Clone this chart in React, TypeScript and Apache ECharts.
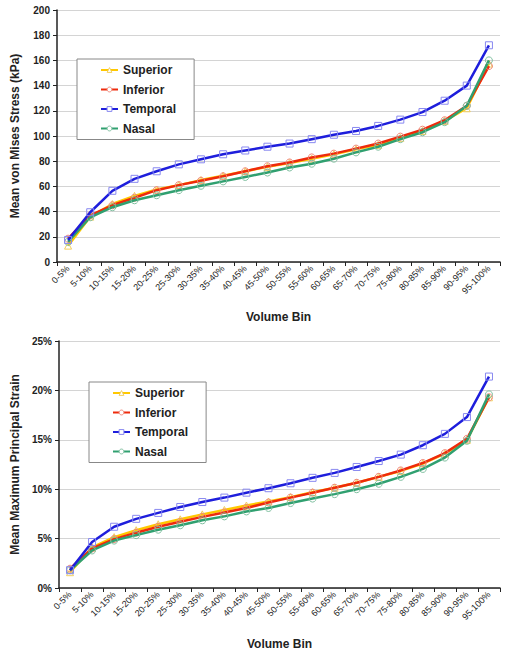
import React, { useEffect, useRef } from "react";
import * as echarts from "echarts";

const categories = ["0-5%","5-10%","10-15%","15-20%","20-25%","25-30%","30-35%","35-40%","40-45%","45-50%","50-55%","55-60%","60-65%","65-70%","70-75%","75-80%","80-85%","85-90%","90-95%","95-100%"];

const seriesNames = ["Superior", "Inferior", "Temporal", "Nasal"];

const stressSuperior = [13, 36, 46, 52.5, 57.5, 61, 65, 68.5, 72, 75.5, 78.5, 82, 85.5, 89.5, 93, 98.5, 104, 112, 122, 157.5];
const stressInferior = [18.5, 37, 45, 51, 57, 61, 64.5, 68, 72, 76, 79, 83, 86, 90, 94, 99.5, 105, 112.5, 124, 155.5];
const stressTemporal = [17.5, 39.5, 56.5, 66, 72, 77.5, 81.5, 85.5, 88.5, 91.5, 94, 97.5, 101, 104, 108, 113, 119, 128, 140, 172];
const stressNasal = [16, 35.5, 43.5, 49, 53, 57, 60.5, 64, 67.5, 71, 75, 78, 82, 87, 91.5, 97.5, 103, 111, 124, 160];

const strainSuperior = [1.6, 4.1, 5.15, 5.85, 6.45, 6.95, 7.45, 7.9, 8.35, 8.75, 9.2, 9.7, 10.15, 10.65, 11.25, 11.85, 12.6, 13.6, 15.0, 19.3];
const strainInferior = [1.95, 4.0, 4.95, 5.6, 6.2, 6.7, 7.2, 7.65, 8.1, 8.65, 9.15, 9.65, 10.15, 10.65, 11.25, 11.9, 12.65, 13.65, 15.1, 19.3];
const strainTemporal = [1.8, 4.65, 6.2, 7.0, 7.6, 8.2, 8.7, 9.15, 9.65, 10.1, 10.6, 11.15, 11.65, 12.25, 12.85, 13.5, 14.45, 15.6, 17.3, 21.4];
const strainNasal = [1.8, 3.8, 4.8, 5.35, 5.9, 6.35, 6.85, 7.25, 7.75, 8.1, 8.6, 9.05, 9.5, 10.0, 10.55, 11.25, 12.05, 13.2, 14.9, 19.6];

const stressTicks = { min: 0, max: 200, interval: 20 };
const strainTicks = { min: 0, max: 25, interval: 5 };

const lineColors = ["#FFC800", "#EE2A0C", "#1E1EDC", "#30A070"];
const markerColors = ["#F2CF60", "#F08878", "#8888F0", "#80C0A0"];
const symbols = ["triangle", "circle", "rect", "circle"];

const FONT = "Arial, 'Liberation Sans', sans-serif";

export default function App() {
  const ref = useRef<HTMLDivElement>(null);
  useEffect(() => {
    if (!ref.current) return;
    const chart = echarts.init(ref.current, undefined, { renderer: "svg" });
    const stressData = [stressSuperior, stressInferior, stressTemporal, stressNasal];
    const strainData = [strainSuperior, strainInferior, strainTemporal, strainNasal];

    const makeSeries = (dataSet: number[][], idx: number) =>
      seriesNames.map((name, i) => ({
        name,
        type: "line",
        xAxisIndex: idx,
        yAxisIndex: idx,
        data: dataSet[i],
        symbol: symbols[i],
        symbolSize: 7,
        showAllSymbol: true,
        lineStyle: { color: lineColors[i], width: 2.5 },
        itemStyle: { color: "rgba(255,255,255,0)", borderColor: markerColors[i], borderWidth: 1 },
        z: i === 2 ? 3 : 2 + i * 0.1,
      }));

    const xAxisBase = (gridIndex: number, gap: number) => ({
      type: "category",
      gridIndex,
      data: categories,
      boundaryGap: true,
      name: "Volume Bin",
      nameLocation: "middle",
      nameGap: gap,
      nameTextStyle: { fontFamily: FONT, fontWeight: "bold", fontSize: 12, color: "#222" },
      axisLine: { lineStyle: { color: "#222", width: 1.5 } },
      axisTick: { show: true, alignWithLabel: false, length: 4, lineStyle: { color: "#222", width: 1 } },
      axisLabel: { interval: 0, rotate: 45, fontFamily: FONT, fontSize: 9, color: "#222", margin: 5 },
      splitLine: { show: false },
    });

    const yAxisBase = (gridIndex: number, name: string, ticks: any, fmt: string) => ({
      type: "value",
      gridIndex,
      min: ticks.min,
      max: ticks.max,
      interval: ticks.interval,
      name,
      nameLocation: "middle",
      nameGap: 36,
      nameTextStyle: { fontFamily: FONT, fontWeight: "bold", fontSize: 12, color: "#222" },
      axisLine: { show: true, lineStyle: { color: "#222", width: 1.5 } },
      axisTick: { show: true, length: 4, lineStyle: { color: "#222", width: 1 } },
      axisLabel: { formatter: fmt, fontFamily: FONT, fontWeight: "bold", fontSize: 10, color: "#222", margin: 7 },
      splitLine: { show: true, lineStyle: { color: "#D4D4D4", width: 1 } },
    });

    const legendBase = (left: number, top: number) => ({
      orient: "vertical",
      left,
      top,
      data: seriesNames,
      itemWidth: 17,
      itemHeight: 6,
      itemGap: 7.5,
      padding: [5, 18, 5, 23],
      borderColor: "#888",
      borderWidth: 1,
      backgroundColor: "#fff",
      itemStyle: { color: "#ffffff", borderWidth: 1 },
      textStyle: { fontFamily: FONT, fontWeight: "bold", fontSize: 12, color: "#222" },
    });

    chart.setOption({
      animation: false,
      backgroundColor: "#fff",
      grid: [
        { left: 57, right: 9, top: 10, height: 252 },
        { left: 59, right: 9, top: 341, height: 247 },
      ],
      legend: [legendBase(77, 59), legendBase(89, 382)],
      xAxis: [xAxisBase(0, 49), xAxisBase(1, 50)],
      yAxis: [
        yAxisBase(0, "Mean von Mises Stress (kPa)", stressTicks, "{value}"),
        yAxisBase(1, "Mean Maximum Principal Strain", strainTicks, "{value}%"),
      ],
      series: [...makeSeries(stressData, 0), ...makeSeries(strainData, 1)],
    });
    return () => chart.dispose();
  }, []);
  return (
    <div
      ref={ref}
      style={{ position: "fixed", left: 0, top: 0, width: 509, height: 652, background: "#fff" }}
    />
  );
}
